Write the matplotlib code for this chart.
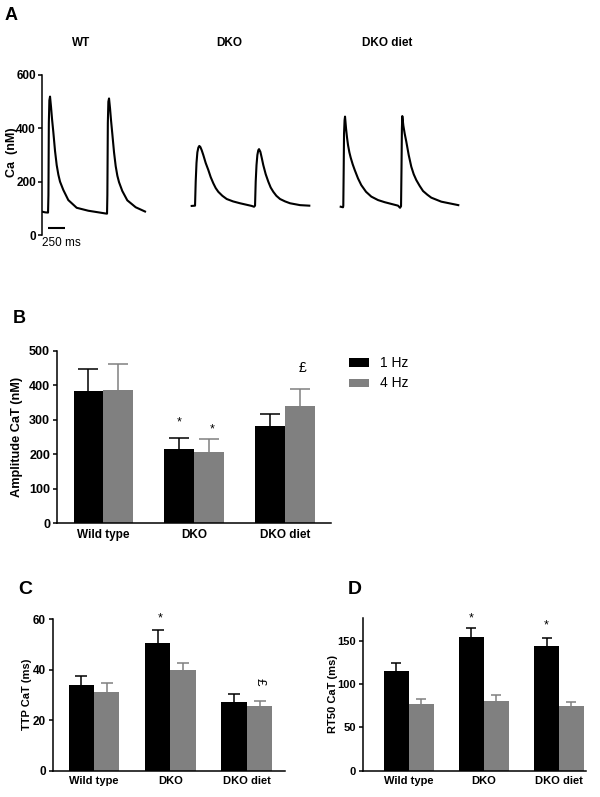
import numpy as np
import matplotlib
matplotlib.use('Agg')
import matplotlib.pyplot as plt
from matplotlib.patches import Rectangle

plt.rcParams['font.family'] = ['Liberation Sans', 'DejaVu Sans']
narrow = ['Liberation Sans Narrow', 'Liberation Sans', 'DejaVu Sans']

# ---- panel A: Ca transients (time in ms from trace start, Ca in nM)
wt_t = [0, 35, 80, 86, 92, 100, 110, 125, 140, 159, 185, 210, 235, 260, 309, 384, 510, 684, 860, 935,
        965, 970, 977, 985, 995, 1010, 1025, 1044, 1070, 1095, 1120, 1145, 1194, 1269, 1395, 1535]
wt_ca = [87, 85, 84, 150, 420, 505, 519, 480, 435, 387, 315, 262, 226, 200, 169, 131, 102, 91, 84, 81,
         80, 150, 420, 500, 512, 475, 430, 380, 310, 258, 222, 198, 165, 130, 104, 88]

dko_t = [0, 50, 60, 72, 85, 100, 114, 130, 150, 174, 210, 249, 285, 324, 360, 399, 460, 525, 620, 725, 900, 935,
         950, 960, 972, 985, 999, 1010, 1030, 1050, 1074, 1110, 1149, 1185, 1224, 1270, 1325, 1400, 1475, 1625, 1764]
dko_ca = [109, 110, 200, 270, 310, 328, 334, 330, 318, 300, 270, 244, 217, 194, 176, 162, 147, 135, 126, 119, 109, 106,
          110, 200, 262, 300, 318, 322, 312, 290, 262, 228, 200, 178, 162, 147, 135, 126, 119, 112, 110]

diet_t = [0, 35, 39, 45, 50, 58, 65, 80, 95, 110, 130, 150, 180, 210, 260, 309, 380, 459, 560, 660, 860, 890,
          905, 912, 918, 924, 940, 960, 984, 1020, 1059, 1095, 1134, 1185, 1235, 1300, 1359, 1509, 1764]
diet_ca = [106, 104, 110, 250, 380, 430, 444, 400, 365, 337, 310, 290, 265, 244, 212, 187, 162, 144, 131, 123, 110, 102,
           108, 250, 400, 446, 410, 380, 350, 300, 256, 228, 206, 184, 165, 151, 140, 125, 112]

trace_names = ['WT', 'DKO', 'DKO diet']

# ---- panels B-D: mean and SEM
groups = ['Wild type', 'DKO', 'DKO diet']
amp_1hz = [382, 215, 282]
amp_1hz_sem = [65, 33, 34]
amp_4hz = [387, 207, 340]
amp_4hz_sem = [75, 36, 50]

ttp_1hz = [33.9, 50.4, 27.2]
ttp_1hz_sem = [3.4, 5.3, 3.0]
ttp_4hz = [31.3, 39.7, 25.6]
ttp_4hz_sem = [3.5, 2.8, 2.0]

rt50_1hz = [115.4, 154.6, 143.9]
rt50_1hz_sem = [9.2, 9.4, 9.1]
rt50_4hz = [77, 80.8, 75]
rt50_4hz_sem = [6, 6.2, 4]

W, H = 600, 797
fig = plt.figure(figsize=(6, 7.97), dpi=100)


def box(l, t, r, b):
    return [l / W, 1 - b / H, (r - l) / W, (b - t) / H]


def style(ax, fs):
    for s in ['top', 'right']:
        ax.spines[s].set_visible(False)
    for s in ['left', 'bottom']:
        ax.spines[s].set_linewidth(1.1)
    ax.tick_params(axis='y', direction='out', length=3, width=1.1, pad=2, labelsize=fs)
    ax.tick_params(axis='x', length=0, pad=4)
    for lab in ax.get_yticklabels():
        lab.set_fontweight('bold')


# ---------------- A
axA = fig.add_axes(box(42.3, 75, 470, 235))
offsets = [6, 2241, 4476]
for t, ca, off in zip([wt_t, dko_t, diet_t], [wt_ca, dko_ca, diet_ca], offsets):
    axA.plot(np.array(t) + off, ca, color='black', lw=1.5)
axA.set_xlim(0, (470 - 42.3) * 15)
axA.set_ylim(0, 600)
axA.set_yticks([0, 200, 400, 600])
for s in ['top', 'right', 'bottom']:
    axA.spines[s].set_visible(False)
axA.spines['left'].set_linewidth(1.1)
axA.set_xticks([])
axA.tick_params(axis='y', direction='out', length=3, width=1.1, pad=1.5)
for lab in axA.get_yticklabels():
    lab.set_family(narrow)
    lab.set_fontweight('bold')
    lab.set_fontsize(8.5)
axA.plot([90, 340], [27, 27], color='black', lw=1.5, solid_capstyle='butt')
axA.text(280, -8, '250 ms', ha='center', va='top', family=narrow, fontsize=8.5)
fig.text(12 / W, 1 - 152 / H, 'Ca  (nM)', rotation=90, ha='center', va='center',
         fontweight='bold', fontsize=9)
for name, xc in zip(trace_names, [81, 229, 387]):
    fig.text(xc / W, 1 - 43 / H, name, ha='center', va='center', fontweight='bold', fontsize=8.5)
fig.text(11.5 / W, 1 - 16 / H, 'A', ha='center', va='center', fontweight='bold', fontsize=13)


def bars(ax, m1, s1, m4, s4, w, cap):
    x = np.arange(len(groups))
    ax.bar(x - w / 2, m1, w, color='black', edgecolor='none')
    ax.bar(x + w / 2, m4, w, color='#808080', edgecolor='none')
    for xs, m, s, c in [(x - w / 2, m1, s1, 'black'), (x + w / 2, m4, s4, '#808080')]:
        eb = ax.errorbar(xs, m, yerr=[np.zeros(3), s], fmt='none', ecolor=c,
                         elinewidth=1.1, capsize=cap, capthick=1.1)
        eb[1][0].set_visible(False)  # no cap at the bar top
    ax.set_xticks(x)
    ax.set_xticklabels(groups)


def mark(ax, x, y, s, fs=9, dy=-5.4, rot=0):
    ax.annotate(s, (x, y), xytext=(0, dy), textcoords='offset points', ha='center',
                va='baseline', fontsize=fs, rotation=rot, annotation_clip=False)


# ---------------- B
axB = fig.add_axes(box(57, 350.7, 331, 523))
bars(axB, amp_1hz, amp_1hz_sem, amp_4hz, amp_4hz_sem, 0.33, 7.2)
axB.set_xlim(-0.512, 2.507)
axB.set_ylim(0, 500)
axB.set_yticks(range(0, 501, 100))
style(axB, 9)
for lab in axB.get_xticklabels():
    lab.set_fontweight('bold')
    lab.set_fontsize(8.5)
mark(axB, 0.832, 305, '*')
mark(axB, 1.196, 285, '*')
mark(axB, 2.198, 453, '£', fs=10, dy=-3.5)
fig.text(17 / W, 1 - 437 / H, 'Amplitude CaT (nM)', rotation=90, ha='center', va='center',
         fontweight='bold', fontsize=9.2)
fig.text(19.5 / W, 1 - 318.5 / H, 'B', ha='center', va='center', fontweight='bold', fontsize=13)
for yt, yb, col, lbl in [(358, 367, 'black', '1 Hz'), (379, 387, '#808080', '4 Hz')]:
    fig.add_artist(Rectangle((349 / W, 1 - yb / H), 20 / W, (yb - yt) / H,
                             transform=fig.transFigure, color=col, lw=0))
    fig.text(380 / W, 1 - (yt + yb) / 2 / H, lbl, ha='left', va='center', fontsize=10)

# ---------------- C
axC = fig.add_axes(box(53, 619, 285, 770.7))
bars(axC, ttp_1hz, ttp_1hz_sem, ttp_4hz, ttp_4hz_sem, 0.333, 4.3)
axC.set_xlim(-0.536, 2.50)
axC.set_ylim(0, 60)
axC.set_yticks([0, 20, 40, 60])
style(axC, 8.5)
for lab in axC.get_xticklabels():
    lab.set_fontweight('bold')
    lab.set_fontsize(8)
mark(axC, 0.87, 62, '*')
mark(axC, 2.17, 34.8, '£', fs=9.5, dy=0, rot=-90)
fig.text(27 / W, 1 - 694 / H, 'TTP CaT (ms)', rotation=90, ha='center', va='center',
         fontweight='bold', fontsize=8)
fig.text(25 / W, 1 - 589 / H, 'C', ha='center', va='center', fontweight='bold', fontsize=14)

# ---------------- D
axD = fig.add_axes(box(363, 618, 586, 770.7))
bars(axD, rt50_1hz, rt50_1hz_sem, rt50_4hz, rt50_4hz_sem, 0.333, 3.6)
axD.set_xlim(-0.613, 2.36)
axD.set_ylim(0, 176)
axD.set_yticks([0, 50, 100, 150])
style(axD, 8)
for lab in axD.get_xticklabels():
    lab.set_fontweight('bold')
    lab.set_fontsize(8)
mark(axD, 0.827, 180.8, '*')
mark(axD, 1.827, 173, '*')
fig.text(333 / W, 1 - 694 / H, 'RT50 CaT (ms)', rotation=90, ha='center', va='center',
         fontweight='bold', fontsize=8)
fig.text(355 / W, 1 - 589 / H, 'D', ha='center', va='center', fontweight='bold', fontsize=14)

fig.savefig('out.png', dpi=100)
